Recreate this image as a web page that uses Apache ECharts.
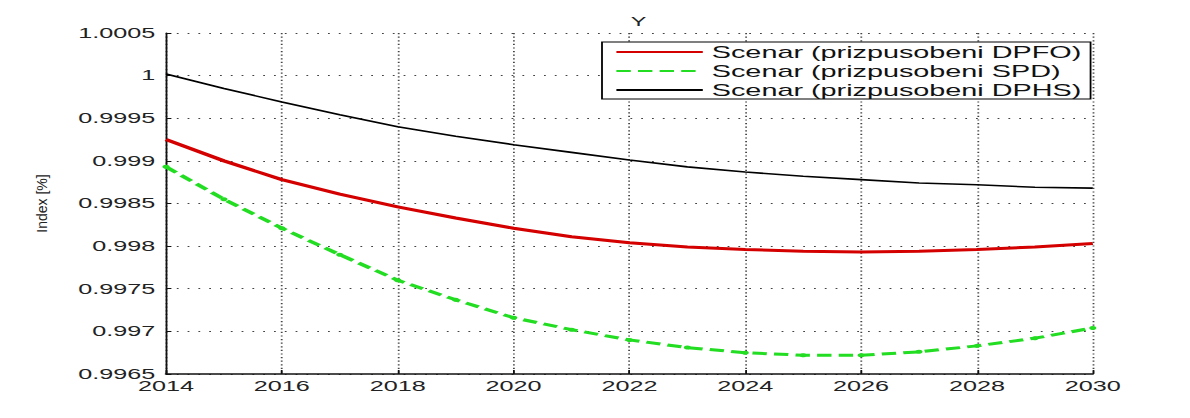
<!DOCTYPE html>
<html>
<head>
<meta charset="utf-8">
<script src="https://cdn.jsdelivr.net/npm/echarts@6/dist/echarts.min.js"></script>
<style>
  html, body { margin: 0; padding: 0; background: #fff; overflow: hidden; }
  /* the figure is laid out in a narrow box and widened horizontally */
  #chart {
    position: absolute; left: 0; top: 0;
    width: 661.11px; height: 418px;
    transform: scaleX(1.8); transform-origin: 0 0;
  }
</style>
</head>
<body>
<div id="chart"></div>
<script>
// horizontal widening applied to the chart box
var SX = 1.8;

var years = [2014, 2015, 2016, 2017, 2018, 2019, 2020, 2021, 2022, 2023, 2024, 2025, 2026, 2027, 2028, 2029, 2030];

var seriesNames = ['Scenar (prizpusobeni DPFO)', 'Scenar (prizpusobeni SPD)', 'Scenar (prizpusobeni DPHS)'];

var dpfo = [0.99925, 0.99900, 0.99878, 0.99861, 0.99846, 0.99833, 0.99821, 0.99811, 0.99804,
            0.99799, 0.99796, 0.99794, 0.99793, 0.99794, 0.99796, 0.99799, 0.99803];

var spd  = [0.99893, 0.99855, 0.99821, 0.99790, 0.99760, 0.99737, 0.99716, 0.99702, 0.99690,
            0.99681, 0.99675, 0.99672, 0.99672, 0.99676, 0.99683, 0.99692, 0.99704];

var dphs = [1.00002, 0.99985, 0.99969, 0.99954, 0.99940, 0.99929, 0.99919, 0.99910, 0.99901,
            0.99893, 0.99887, 0.99882, 0.99878, 0.99874, 0.99872, 0.99869, 0.99868];

var yMin = 0.9965, yMax = 1.0005, yStep = 0.0005;
var xMin = 2014, xMax = 2030, xStep = 2;

function pairs(vals) {
  return years.map(function (y, i) { return [y, vals[i]]; });
}

var font = '"Liberation Sans", Arial, sans-serif';
var chart = echarts.init(document.getElementById('chart'), null, { renderer: 'svg' });

// legend entries show only the line, no point symbol
var legendData = seriesNames.map(function (n) {
  return { name: n, itemStyle: { opacity: 0 } };
});

chart.setOption({
  animation: false,
  backgroundColor: '#fff',
  title: {
    text: 'Y',
    left: 629.5 / SX,
    top: 10,
    textAlign: 'center',
    textStyle: { fontFamily: font, fontSize: 13, fontWeight: 'normal', color: '#222' }
  },
  legend: {
    data: legendData,
    orient: 'vertical',
    left: 602 / SX,
    top: 42,
    padding: [2, 5, 1, 7],
    itemGap: 3,
    itemWidth: 48,
    itemHeight: 14,
    borderColor: '#000',
    borderWidth: 1,
    borderRadius: 0,
    backgroundColor: '#fff',
    textStyle: { fontFamily: font, fontSize: 16, color: '#111', lineHeight: 16 }
  },
  grid: {
    left: 166 / SX,
    right: 97 / SX,
    top: 33,
    bottom: 44,
    containLabel: false
  },
  xAxis: {
    type: 'value',
    min: xMin,
    max: xMax,
    interval: xStep,
    axisLine: { show: true, onZero: false, lineStyle: { color: '#111', width: 1.5 } },
    axisTick: { show: true, inside: true, length: 4, lineStyle: { color: '#111' } },
    axisLabel: {
      margin: 5,
      fontFamily: font, fontSize: 14, color: '#222',
      formatter: function (v) { return String(v); }
    },
    splitLine: { show: true, lineStyle: { color: '#444', width: 1, type: [1.2, 2.4] } }
  },
  yAxis: {
    type: 'value',
    min: yMin,
    max: yMax,
    interval: yStep,
    axisLine: { show: true, onZero: false, lineStyle: { color: '#111', width: 1 } },
    axisTick: { show: true, inside: true, length: 3, lineStyle: { color: '#111' } },
    axisLabel: {
      margin: 6,
      fontFamily: font, fontSize: 14, color: '#222',
      formatter: function (v) { return String(parseFloat(v.toFixed(4))); }
    },
    splitLine: { show: true, lineStyle: { color: '#444', width: 1.2, type: [1, 5] } }
  },
  graphic: [{
    type: 'text',
    x: 42 / SX,
    y: 203.5,
    rotation: Math.PI / 2,
    scaleY: 1 / SX,
    style: {
      text: 'Index [%]',
      fontFamily: font,
      fontSize: 14,
      fill: '#222',
      textAlign: 'center',
      textVerticalAlign: 'middle'
    }
  }],
  series: [
    {
      name: seriesNames[0],
      type: 'line',
      data: pairs(dpfo),
      showSymbol: false,
      symbol: 'none',
      lineStyle: { color: '#d40000', width: 3 },
      itemStyle: { color: '#d40000' },
      z: 3
    },
    {
      name: seriesNames[1],
      type: 'line',
      data: pairs(spd),
      showSymbol: true,
      symbol: 'circle',
      symbolSize: 4,
      lineStyle: { color: '#22dd22', width: 3, type: [8, 4] },
      itemStyle: { color: '#22dd22', borderWidth: 0 },
      z: 3
    },
    {
      name: seriesNames[2],
      type: 'line',
      data: pairs(dphs),
      showSymbol: false,
      symbol: 'none',
      lineStyle: { color: '#000', width: 1.6 },
      itemStyle: { color: '#000' },
      z: 3
    }
  ]
});
</script>
</body>
</html>
